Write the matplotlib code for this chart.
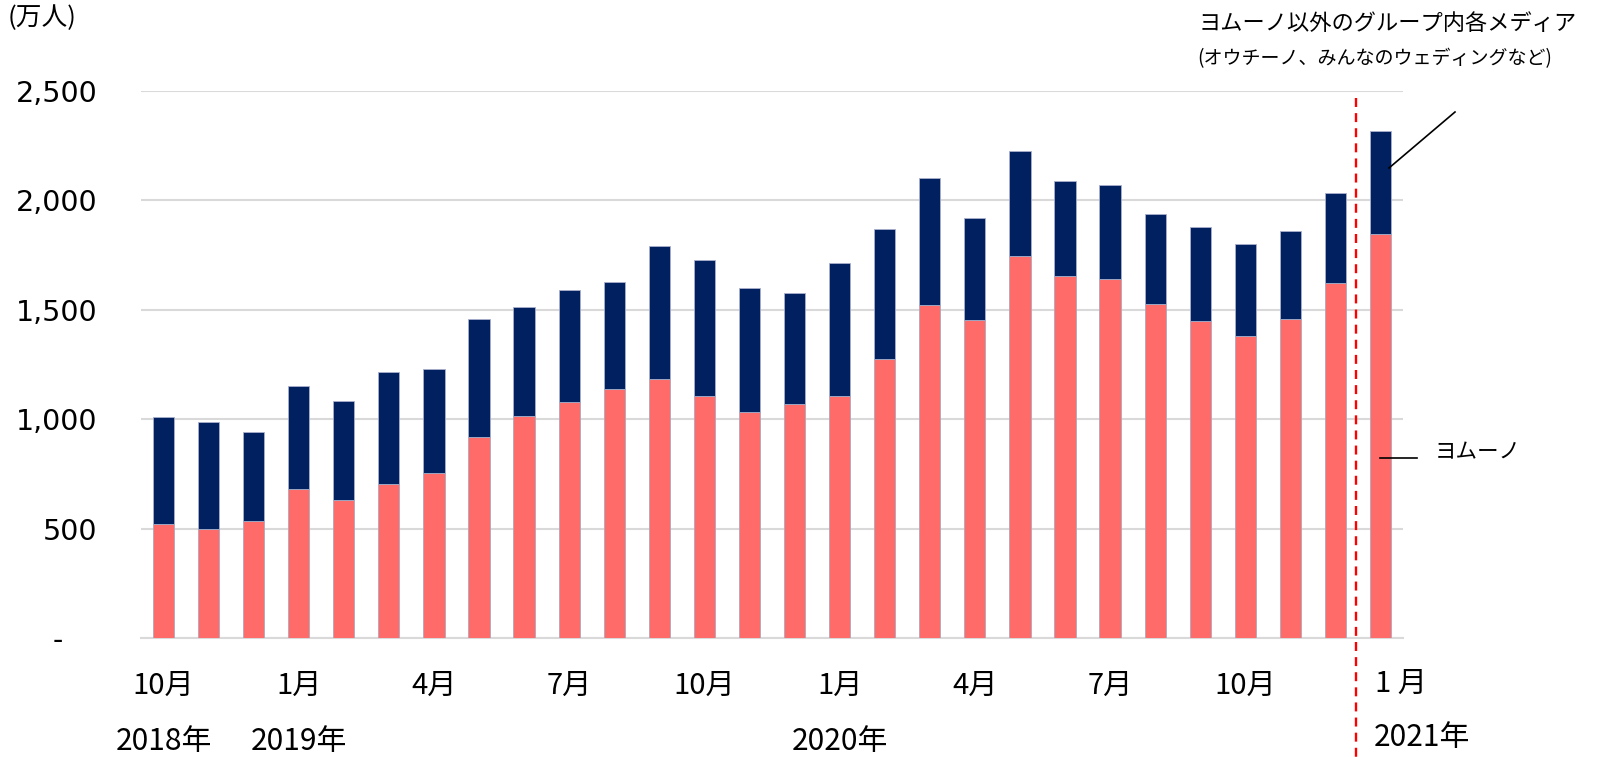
import matplotlib
matplotlib.use('Agg')
import matplotlib.pyplot as plt
from matplotlib.transforms import blended_transform_factory, ScaledTranslation
from matplotlib.lines import Line2D

# ---- data (万人) ----
months = ['2018-10', '2018-11', '2018-12',
          '2019-01', '2019-02', '2019-03', '2019-04', '2019-05', '2019-06',
          '2019-07', '2019-08', '2019-09', '2019-10', '2019-11', '2019-12',
          '2020-01', '2020-02', '2020-03', '2020-04', '2020-05', '2020-06',
          '2020-07', '2020-08', '2020-09', '2020-10', '2020-11', '2020-12',
          '2021-01']
yomuno = [521, 499, 534, 681, 630, 703, 755, 920, 1014, 1077, 1139, 1182,
          1107, 1032, 1068, 1104, 1273, 1521, 1451, 1744, 1655, 1639, 1524,
          1447, 1381, 1459, 1623, 1846]
others = [487, 486, 407, 472, 454, 511, 475, 537, 498, 514, 489, 609,
          618, 565, 508, 608, 594, 580, 466, 479, 431, 432, 413, 431,
          418, 399, 410, 470]

month_tick_idx = [0, 3, 6, 9, 12, 15, 18, 21, 24]
month_tick_labels = ['10月', '1月', '4月', '7月', '10月', '1月', '4月', '7月', '10月']
year_idx = [0, 3, 15]
year_labels = ['2018年', '2019年', '2020年']
last_month_label = '1 月'
last_year_label = '2021年'

yticks = [0, 500, 1000, 1500, 2000, 2500]
ytick_labels = ['-', '500', '1,000', '1,500', '2,000', '2,500']

unit_label = '(万人)'
series_top_label = 'ヨムーノ以外のグループ内各メディア'
series_top_sub = '(オウチーノ、みんなのウェディングなど)'
series_bottom_label = 'ヨムーノ'

# ---- style ----
JP = ['Noto Sans CJK JP', 'DejaVu Sans']
NAVY = '#00205f'
PINK = '#ff6b68'
GRID = '#d9d9d9'

fig = plt.figure(figsize=(16, 7.57), dpi=100)
ax = fig.add_axes([0.0881, 0.1572, 0.7888, 0.7230])

x = list(range(len(months)))
ax.bar(x, yomuno, width=0.47, color=PINK, edgecolor='#a9a9c0', linewidth=0.6, zorder=3)
ax.bar(x, others, width=0.47, bottom=yomuno, color=NAVY, edgecolor='#a9b0cc',
       linewidth=0.6, zorder=3)

ax.set_xlim(-0.5, len(months) - 0.5)
ax.set_ylim(0, 2500)
ax.set_yticks(yticks)
ax.set_yticklabels(ytick_labels, fontsize=20.5, family='DejaVu Sans')
ax.tick_params(axis='y', length=0, pad=31.5)
ax.set_xticks([])
ax.yaxis.grid(True, color=GRID, linewidth=1.5, zorder=0)
for s in ['top', 'right', 'left']:
    ax.spines[s].set_visible(False)
ax.spines['bottom'].set_color(GRID)
ax.spines['bottom'].set_linewidth(1.5)

# shift the '-' zero label left like the reference
zl = ax.get_yticklabels()[0]
zl.set_transform(zl.get_transform() + ScaledTranslation(-0.34, 0, fig.dpi_scale_trans))

# x labels (months / years)
tr = blended_transform_factory(ax.transData, fig.transFigure)
for i, lab in zip(month_tick_idx, month_tick_labels):
    ax.text(i, 1 - 686 / 757, lab, transform=tr, ha='center', va='center',
            fontsize=21, family=JP)
for i, lab in zip(year_idx, year_labels):
    ax.text(i, 1 - 742 / 757, lab, transform=tr, ha='center', va='center',
            fontsize=21.5, family=JP)
n = len(months) - 1
ax.text(n - 0.12, 1 - 684 / 757, last_month_label, transform=tr, ha='left',
        va='center', fontsize=21, family=JP)
ax.text(n - 0.15, 1 - 738 / 757, last_year_label, transform=tr, ha='left',
        va='center', fontsize=21.5, family=JP)

# red dashed divider
ax.add_line(Line2D([n - 0.55, n - 0.55], [1 - 98 / 757, 0], transform=tr,
                   color='#ff0000', linewidth=1.7, linestyle=(0, (3.8, 2.6)),
                   clip_on=False, zorder=5))

# unit label
fig.text(8 / 1600, 1 - 18 / 757, unit_label, ha='left', va='center',
         fontsize=18.5, family=JP)

# series labels with leader lines
fig.text(1199 / 1600, 1 - 23 / 757, series_top_label, ha='left', va='center',
         fontsize=16, family=JP)
fig.text(1197 / 1600, 1 - 59 / 757, series_top_sub, ha='left', va='center',
         fontsize=13.7, family=JP)
fig.add_artist(Line2D([1389 / 1600, 1455 / 1600], [1 - 168 / 757, 1 - 112 / 757],
                      transform=fig.transFigure, color='black', linewidth=1.2))
fig.add_artist(Line2D([1380 / 1600, 1417 / 1600], [1 - 458 / 757, 1 - 458 / 757],
                      transform=fig.transFigure, color='black', linewidth=1.2))
fig.text(1435 / 1600, 1 - 452 / 757, series_bottom_label, ha='left', va='center',
         fontsize=15.5, family=JP)

fig.savefig('out.png', dpi=100, facecolor='white')
